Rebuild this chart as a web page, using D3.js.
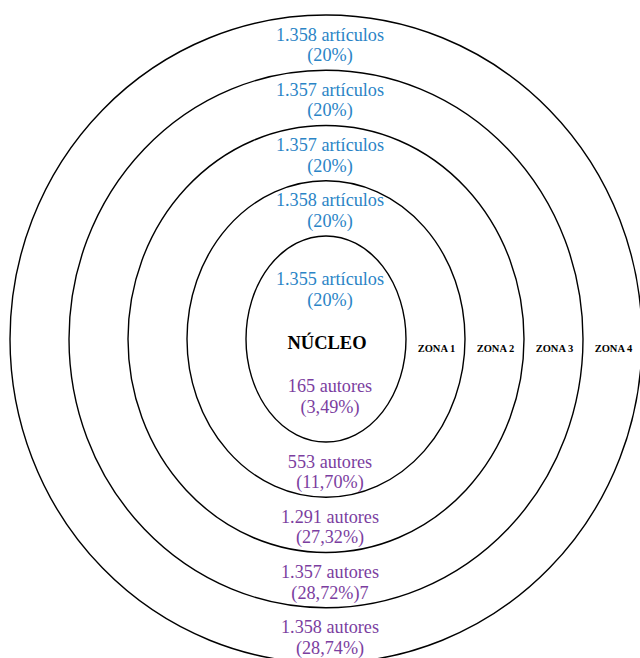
<!DOCTYPE html>
<html>
<head>
<meta charset="utf-8">
<script src="https://cdn.jsdelivr.net/npm/d3@7"></script>
<style>
  html, body { margin: 0; padding: 0; background: #fff; }
  svg { display: block; }
</style>
</head>
<body>
<svg id="chart" width="640" height="658"></svg>
<script>
// ---- data ----
const zones = ["NÚCLEO", "ZONA 1", "ZONA 2", "ZONA 3", "ZONA 4"];
const articles = ["1.355", "1.358", "1.357", "1.357", "1.358"];
const articlePct = ["(20%)", "(20%)", "(20%)", "(20%)", "(20%)"];
const authors = ["165", "553", "1.291", "1.357", "1.358"];
const authorPct = ["(3,49%)", "(11,70%)", "(27,32%)", "(28,72%)7", "(28,74%)"];

// ---- layout ----
const svg = d3.select("#chart");
const cx = 326, cy = 339;
const rxScale = d3.scaleLinear().domain([0, 4]).range([80, 316]);
const ryScale = d3.scaleLinear().domain([0, 4]).range([103, 324]);
const blue = "#2a84c6", purple = "#7b3ea0";
const fontFam = "'Liberation Serif', 'Times New Roman', serif";
const lineGap = 20.5;

// ellipses
svg.selectAll("ellipse.ring")
  .data(zones)
  .join("ellipse")
  .attr("class", "ring")
  .attr("cx", cx).attr("cy", cy)
  .attr("rx", (d, i) => rxScale(i))
  .attr("ry", (d, i) => ryScale(i))
  .attr("fill", "none")
  .attr("stroke", "#000")
  .attr("stroke-width", 1.4);

// text positions
function topMid(i) {
  if (i === 0) return cy - 50;
  return cy - (ryScale(i) + ryScale(i - 1)) / 2 + 2;
}
function botMid(i) {
  if (i === 0) return cy + 57;
  return cy + (ryScale(i) + ryScale(i - 1)) / 2 + 2;
}

const tx = cx + 4;
const g = svg.append("g").attr("font-family", fontFam).attr("text-anchor", "middle");
const fs = 18.2;

zones.forEach((z, i) => {
  const ty = topMid(i);
  g.append("text").attr("x", tx).attr("y", ty - lineGap / 2).attr("dy", "0.35em")
    .attr("font-size", fs).attr("fill", blue).text(articles[i] + " artículos");
  g.append("text").attr("x", tx).attr("y", ty + lineGap / 2).attr("dy", "0.35em")
    .attr("font-size", fs).attr("fill", blue).text(articlePct[i]);
  const by = botMid(i);
  g.append("text").attr("x", tx).attr("y", by - lineGap / 2).attr("dy", "0.35em")
    .attr("font-size", fs).attr("fill", purple).text(authors[i] + " autores");
  g.append("text").attr("x", tx).attr("y", by + lineGap / 2).attr("dy", "0.35em")
    .attr("font-size", fs).attr("fill", purple).text(authorPct[i]);
});

// zone labels
g.append("text").attr("x", cx + 1).attr("y", cy + 4).attr("dy", "0.35em")
  .attr("font-size", 18.5).attr("font-weight", "bold").attr("fill", "#000").text(zones[0]);

zones.slice(1).forEach((z, k) => {
  const i = k + 1;
  const x = cx + (rxScale(i) + rxScale(i - 1)) / 2;
  g.append("text").attr("x", x + 1).attr("y", 348).attr("dy", "0.35em")
    .attr("font-size", 10.5).attr("font-weight", "bold").attr("fill", "#000").text(z);
});
</script>
</body>
</html>
